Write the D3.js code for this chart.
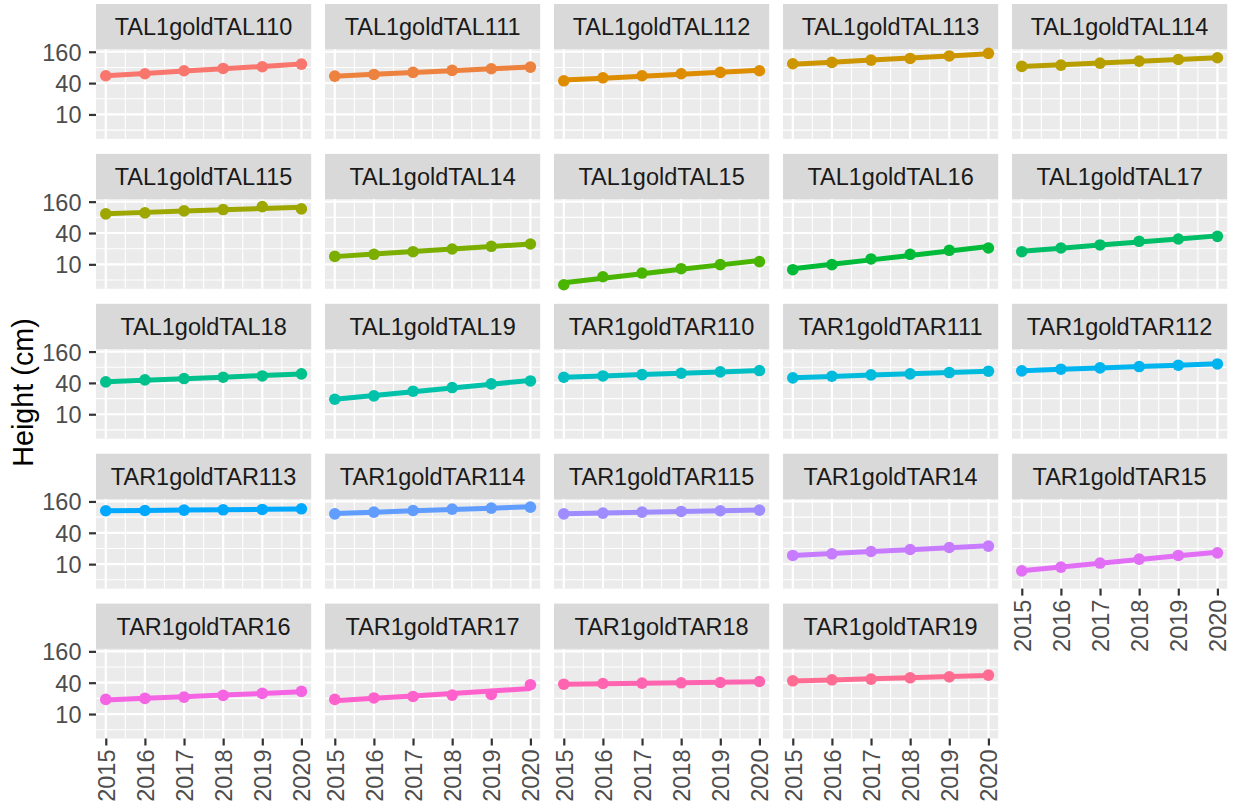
<!DOCTYPE html>
<html>
<head>
<meta charset="utf-8">
<script src="https://cdn.jsdelivr.net/npm/d3@7"></script>
<style>
  html, body { margin: 0; padding: 0; background: #ffffff; }
  svg { display: block; font-family: "Liberation Sans", Arial, Helvetica, sans-serif; }
</style>
</head>
<body>
<script>
// ---- data: plant height (cm) per tree, 2015-2020 ----
const years = [2015, 2016, 2017, 2018, 2019, 2020];
const yearLabels = ["2015", "2016", "2017", "2018", "2019", "2020"];
const yTickValues = [10, 40, 160];
const yTickLabels = ["10", "40", "160"];

const trees = [
  "TAL1goldTAL110", "TAL1goldTAL111", "TAL1goldTAL112", "TAL1goldTAL113", "TAL1goldTAL114",
  "TAL1goldTAL115", "TAL1goldTAL14", "TAL1goldTAL15", "TAL1goldTAL16", "TAL1goldTAL17",
  "TAL1goldTAL18", "TAL1goldTAL19", "TAR1goldTAR110", "TAR1goldTAR111", "TAR1goldTAR112",
  "TAR1goldTAR113", "TAR1goldTAR114", "TAR1goldTAR115", "TAR1goldTAR14", "TAR1goldTAR15",
  "TAR1goldTAR16", "TAR1goldTAR17", "TAR1goldTAR18", "TAR1goldTAR19"
];

const hTAL110 = [55.4, 60.5, 69.1, 76.5, 82.4, 92.6];
const hTAL111 = [54.4, 58.7, 64.2, 70.1, 75.4, 81.1];
const hTAL112 = [44.3, 50.6, 55.4, 60.5, 64.2, 69.1];
const hTAL113 = [94.1, 99.9, 110.6, 119.0, 133.0, 149.0];
const hTAL114 = [83.7, 88.7, 97.0, 105.9, 113.9, 122.7];
const hTAL115 = [93.3, 97.4, 106.4, 112.8, 128.5, 116.2];
const hTAL14  = [14.2, 15.6, 17.5, 19.7, 22.2, 24.6];
const hTAL15  = [4.06, 5.78, 6.8, 8.24, 9.87, 11.3];
const hTAL16  = [7.9, 9.87, 12.7, 15.6, 18.6, 20.6];
const hTAL17  = [17.5, 20.6, 23.6, 27.7, 30.7, 34.5];
const hTAL18  = [41.8, 45.7, 48.5, 51.4, 54.4, 59.6];
const hTAL19  = [19.4, 22.5, 27.7, 32.6, 38.3, 43.6];
const hTAR110 = [51.4, 54.4, 57.8, 61.3, 65.1, 69.1];
const hTAR111 = [49.9, 53.7, 57.0, 59.6, 63.3, 67.1];
const hTAR112 = [68.1, 73.3, 77.8, 82.4, 87.4, 92.6];
const hTAR113 = [106.0, 107.3, 108.9, 110.6, 112.3, 115.7];
const hTAR114 = [92.6, 99.9, 107.3, 113.9, 119.0, 124.5];
const hTAR115 = [92.6, 95.5, 99.9, 102.9, 106.0, 108.9];
const hTAR14  = [14.7, 15.8, 17.5, 19.1, 20.9, 22.2];
const hTAR15  = [7.42, 8.75, 10.5, 12.5, 14.7, 16.5];
const hTAR16  = [19.1, 20.0, 21.1, 22.8, 24.9, 27.2];
const hTAR17  = [19.1, 20.4, 21.8, 23.1, 23.8, 36.6];
const hTAR18  = [37.4, 38.6, 39.2, 39.8, 40.4, 42.2];
const hTAR19  = [43.5, 45.5, 46.8, 49.7, 51.9, 55.9];

const heightSeries = [
  hTAL110, hTAL111, hTAL112, hTAL113, hTAL114, hTAL115, hTAL14, hTAL15, hTAL16, hTAL17,
  hTAL18, hTAL19, hTAR110, hTAR111, hTAR112, hTAR113, hTAR114, hTAR115, hTAR14, hTAR15,
  hTAR16, hTAR17, hTAR18, hTAR19
];

// ---- colours: evenly spaced hues in polar CIE-Luv (l = 65, c = 100) ----
function hclLuv(h, c, l) {
  const hr = h * Math.PI / 180;
  const U = c * Math.cos(hr), V = c * Math.sin(hr);
  const Xn = 95.047, Yn = 100, Zn = 108.883;
  const den = Xn + 15 * Yn + 3 * Zn;
  const un = 4 * Xn / den, vn = 9 * Yn / den;
  const Y = l > 7.999592 ? Yn * Math.pow((l + 16) / 116, 3) : Yn * l / 903.3;
  const u = U / (13 * l) + un, v = V / (13 * l) + vn;
  const X = 9 * Y * u / (4 * v);
  const Z = -X / 3 - 5 * Y + 3 * Y / v;
  const x = X / 100, y = Y / 100, z = Z / 100;
  const lin = [
    3.240479 * x - 1.537150 * y - 0.498535 * z,
    -0.969256 * x + 1.875992 * y + 0.041556 * z,
    0.055648 * x - 0.204043 * y + 1.057311 * z
  ];
  const g = lin.map(t => {
    const s = t > 0.00304 ? 1.055 * Math.pow(t, 1 / 2.4) - 0.055 : 12.92 * t;
    return Math.round(255 * Math.max(0, Math.min(1, s)));
  });
  return d3.rgb(g[0], g[1], g[2]).formatHex();
}
const palette = trees.map((_, i) => hclLuv(15 + 360 * i / trees.length, 100, 65));

// ---- layout ----
const W = 1233, H = 808;
const nCol = 5;
const panelLeft = 96, colStep = 229.0, panelW = 215.2;
const rowTop = 4, rowStep = 149.9, stripH = 45.3, panelH = 89.6;
const font = 23.5;

const svg = d3.select("body").append("svg").attr("width", W).attr("height", H);
svg.append("rect").attr("width", W).attr("height", H).attr("fill", "#ffffff");

// shared scales
const x = d3.scaleLinear()
  .domain([2015 - 0.25, 2020 + 0.25])
  .range([0, panelW]);

// log-linear fit per tree (fitted on log scale, as drawn)
function fitLog(vals) {
  const lx = years, ly = vals.map(v => Math.log2(v));
  const mx = d3.mean(lx), my = d3.mean(ly);
  const b = d3.sum(lx, (xi, i) => (xi - mx) * (ly[i] - my)) / d3.sum(lx, xi => (xi - mx) ** 2);
  const a = my - b * mx;
  return years.map(yr => ({ year: yr, value: Math.pow(2, a + b * yr) }));
}
const fits = heightSeries.map(fitLog);

const allVals = heightSeries.flat().concat(fits.flat().map(d => d.value));
const lo = Math.log2(d3.min(allVals)), hi = Math.log2(d3.max(allVals));
const pad = (hi - lo) * 0.05;
const y = d3.scaleLog().base(2)
  .domain([Math.pow(2, lo - pad), Math.pow(2, hi + pad)])
  .range([panelH, 0]);

const yMinor = [5, 20, 80].filter(v => v >= y.domain()[0] && v <= y.domain()[1]);
const xMinor = years.slice(0, -1).map(v => v + 0.5);

trees.forEach((name, i) => {
  const r = Math.floor(i / nCol), c = i % nCol;
  const g = svg.append("g")
    .attr("transform", `translate(${panelLeft + c * colStep},${rowTop + r * rowStep})`);

  // strip
  g.append("rect").attr("width", panelW).attr("height", stripH).attr("fill", "#d9d9d9");
  g.append("text")
    .attr("x", panelW / 2).attr("y", stripH / 2 + 0.36 * font)
    .attr("text-anchor", "middle")
    .attr("font-size", font).attr("fill", "#1a1a1a")
    .text(name);

  // panel
  const p = g.append("g").attr("transform", `translate(0,${stripH})`);
  p.append("rect").attr("width", panelW).attr("height", panelH).attr("fill", "#ebebeb");

  p.selectAll("line.ymin").data(yMinor).join("line")
    .attr("x1", 0).attr("x2", panelW).attr("y1", d => y(d)).attr("y2", d => y(d))
    .attr("stroke", "#ffffff").attr("stroke-width", 1.1);
  p.selectAll("line.xmin").data(xMinor).join("line")
    .attr("y1", 0).attr("y2", panelH).attr("x1", d => x(d)).attr("x2", d => x(d))
    .attr("stroke", "#ffffff").attr("stroke-width", 1.1);
  p.selectAll("line.ymaj").data(yTickValues).join("line")
    .attr("x1", 0).attr("x2", panelW).attr("y1", d => y(d)).attr("y2", d => y(d))
    .attr("stroke", "#ffffff").attr("stroke-width", 2.2);
  p.selectAll("line.xmaj").data(years).join("line")
    .attr("y1", 0).attr("y2", panelH).attr("x1", d => x(d)).attr("x2", d => x(d))
    .attr("stroke", "#ffffff").attr("stroke-width", 2.2);

  const col = palette[i];

  // fitted trend
  const line = d3.line().x(d => x(d.year)).y(d => y(d.value));
  p.append("path").datum(fits[i])
    .attr("d", line)
    .attr("fill", "none").attr("stroke", col)
    .attr("stroke-width", 5).attr("stroke-linecap", "butt");

  // observations
  p.selectAll("circle").data(heightSeries[i].map((v, k) => ({ year: years[k], value: v })))
    .join("circle")
    .attr("cx", d => x(d.year)).attr("cy", d => y(d.value))
    .attr("r", 5.8).attr("fill", col);

  // left axis on first column
  if (c === 0) {
    const ax = p.append("g").call(
      d3.axisLeft(y).tickValues(yTickValues)
        .tickFormat((d, k) => yTickLabels[k])
        .tickSize(7).tickPadding(7.5)
    );
    ax.select(".domain").remove();
    ax.selectAll(".tick line").attr("stroke", "#333333").attr("stroke-width", 2.2);
    ax.selectAll(".tick text").attr("fill", "#4d4d4d").attr("font-size", font)
      .attr("font-family", null).attr("dy", "0.36em");
  }

  // bottom axis where no panel sits below
  if (i + nCol >= trees.length) {
    const bx = p.append("g").attr("transform", `translate(0,${panelH})`).call(
      d3.axisBottom(x).tickValues(years)
        .tickFormat((d, k) => yearLabels[k])
        .tickSize(7)
    );
    bx.select(".domain").remove();
    bx.selectAll(".tick line").attr("stroke", "#333333").attr("stroke-width", 2.2);
    bx.selectAll(".tick text")
      .attr("fill", "#4d4d4d").attr("font-size", font).attr("font-family", null)
      .attr("transform", "rotate(-90)")
      .attr("x", -11).attr("y", 0).attr("dy", "0.36em")
      .attr("text-anchor", "end");
  }
});

// y-axis title
svg.append("text")
  .attr("transform", "translate(33.3,392.5) rotate(-90)")
  .attr("text-anchor", "middle")
  .attr("font-size", 28.75).attr("fill", "#000000")
  .text("Height (cm)");
</script>
</body>
</html>
